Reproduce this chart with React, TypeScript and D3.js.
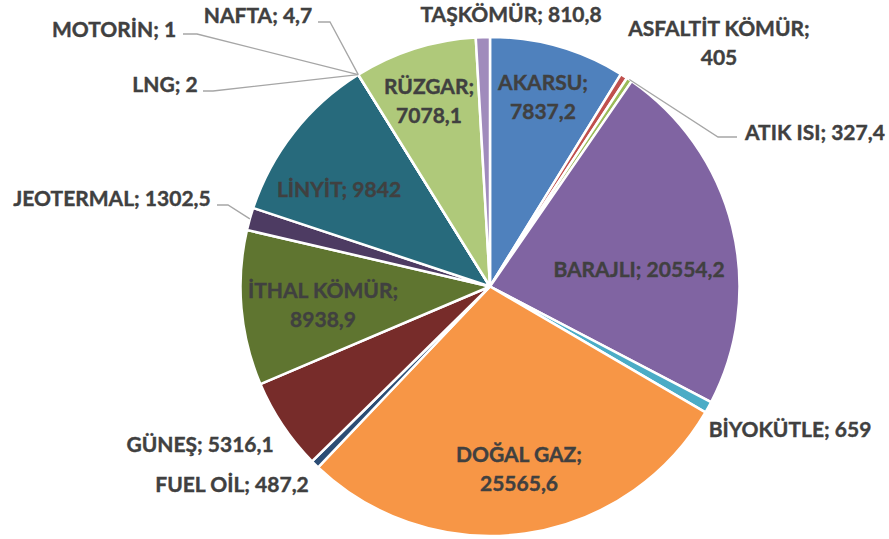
import React from 'react';
import * as d3 from 'd3';

const categories = ['AKARSU', 'ASFALTİT KÖMÜR', 'ATIK ISI', 'BARAJLI', 'BİYOKÜTLE', 'DOĞAL GAZ', 'FUEL OİL', 'GÜNEŞ', 'İTHAL KÖMÜR', 'JEOTERMAL', 'LİNYİT', 'LNG', 'MOTORİN', 'NAFTA', 'RÜZGAR', 'TAŞKÖMÜR'];
const values = [7837.2, 405, 327.4, 20554.2, 659, 25565.6, 487.2, 5316.1, 8938.9, 1302.5, 9842, 2, 1, 4.7, 7078.1, 810.8];
const colors = ['#4F81BD', '#C0504D', '#9BBB59', '#8064A2', '#4BACC6', '#F79646', '#2C4D75', '#772C2A', '#5F7530', '#4D3B62', '#276A7C', '#B65708', '#729ACA', '#CD7371', '#AFC97A', '#A08BBC'];

// label layout relative to pie centre (px)
type Lay = { dx: number; dy: number; two?: boolean; anchor?: string; elbow?: [number, number]; end?: [number, number] };
const layout: Record<string, Lay> = {
  'AKARSU': { dx: 53, dy: -196.5, two: true },
  'ASFALTİT KÖMÜR': { dx: 229, dy: -250.5, two: true },
  'ATIK ISI': { dx: 255, dy: -146.5, anchor: 'start', elbow: [228, -149.5], end: [247, -149.5] },
  'BARAJLI': { dx: 149, dy: -9.5 },
  'BİYOKÜTLE': { dx: 300, dy: 150.5 },
  'DOĞAL GAZ': { dx: 29, dy: 175.5, two: true },
  'FUEL OİL': { dx: -258, dy: 205.5 },
  'GÜNEŞ': { dx: -290, dy: 165.5 },
  'İTHAL KÖMÜR': { dx: -167, dy: 11.5, two: true },
  'JEOTERMAL': { dx: -378, dy: -80.5, elbow: [-262, -81.5], end: [-273, -81.5] },
  'LİNYİT': { dx: -151, dy: -89.5 },
  'LNG': { dx: -325, dy: -194.5, elbow: [-277, -195.5], end: [-287, -195.5] },
  'MOTORİN': { dx: -376, dy: -249.5, elbow: [-293, -252.5], end: [-307, -252.5] },
  'NAFTA': { dx: -232, dy: -263.5, elbow: [-160, -264.5], end: [-172, -264.5] },
  'RÜZGAR': { dx: -61, dy: -192.5, two: true },
  'TAŞKÖMÜR': { dx: 21, dy: -264.5 },
};

const W = 889;
const H = 539;
const cx = 490;
const cy = 286.5;
const R = 249.5;
const FONT = 'Lato, "Open Sans", sans-serif';

const fmt = (v: number) => String(v).replace('.', ',');

export default function App() {
  const data = categories.map((c, i) => ({ name: c, value: values[i], color: colors[i] }));
  const pie = d3.pie<any>().sort(null).value((d) => d.value).startAngle(0).endAngle(2 * Math.PI);
  const arcs = pie(data);
  const arc = d3.arc<any>().innerRadius(0).outerRadius(R);

  return (
    <svg width={W} height={H} style={{ position: 'absolute', left: 0, top: 0, background: '#fff' }}>
      <g transform={`translate(${cx},${cy})`}>
        {arcs.map((a, i) => (
          <path key={i} d={arc(a) as string} fill={a.data.color} stroke="#fff" strokeWidth={2.5} strokeLinejoin="round" />
        ))}
        {arcs.map((a, i) => {
          const L = layout[a.data.name];
          if (!L || !L.elbow) return null;
          const mid = (a.startAngle + a.endAngle) / 2;
          const sx = R * Math.sin(mid);
          const sy = -R * Math.cos(mid);
          const pts: [number, number][] = [[sx, sy], L.elbow, L.end!];
          return <path key={'l' + i} d={d3.line()(pts) as string} fill="none" stroke="#A6A6A6" strokeWidth={1.3} />;
        })}
        {arcs.map((a, i) => {
          const L = layout[a.data.name];
          const anchor = L.anchor || 'middle';
          const common = { fontFamily: FONT, fontWeight: 700, fontSize: 21, fill: '#404040', stroke: '#404040', strokeWidth: 0.4, textAnchor: anchor as any };
          if (L.two) {
            return (
              <text key={'t' + i} {...common} x={L.dx} y={L.dy}>
                <tspan x={L.dx} dy={0}>{a.data.name + ';'}</tspan>
                <tspan x={L.dx} dy={28.5}>{fmt(a.data.value)}</tspan>
              </text>
            );
          }
          return (
            <text key={'t' + i} {...common} x={L.dx} y={L.dy}>
              {a.data.name + '; ' + fmt(a.data.value)}
            </text>
          );
        })}
      </g>
    </svg>
  );
}
